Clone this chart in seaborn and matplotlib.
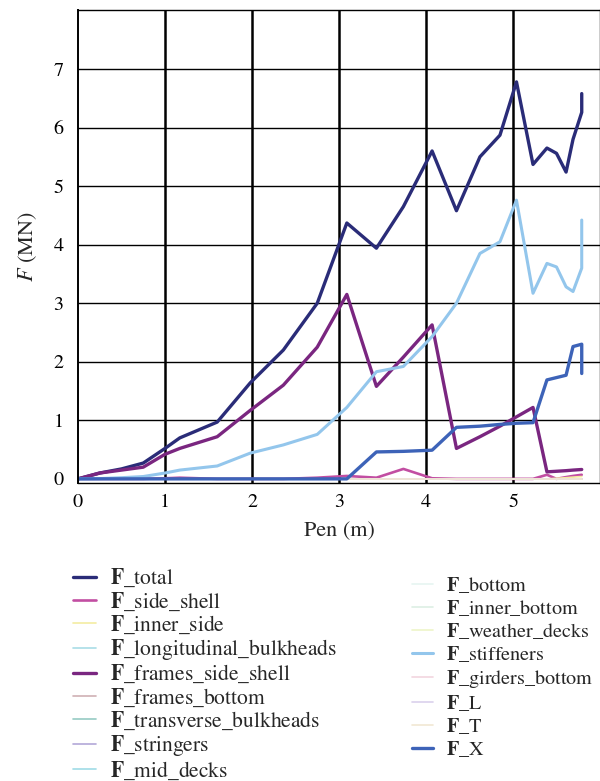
import pandas as pd
import seaborn as sns
import matplotlib.pyplot as plt
import numpy as np

# penetration (m) - shared x grid, last point repeated (vertical end segment)
pen = [0, 0.25, 0.5, 0.75, 1.0, 1.17, 1.6, 1.98, 2.36, 2.75, 3.09, 3.43, 3.74,
       4.07, 4.35, 4.62, 4.85, 5.04, 5.23, 5.39, 5.5, 5.61, 5.69, 5.79, 5.79]

f_total = [0, 0.1, 0.17, 0.27, 0.52, 0.7, 0.97, 1.64, 2.2, 3.0, 4.37, 3.94, 4.65,
           5.6, 4.58, 5.5, 5.87, 6.78, 5.37, 5.65, 5.56, 5.24, 5.8, 6.26, 6.58]
f_side_shell = [0, 0, 0, 0, 0.01, 0.02, 0, 0, 0, 0.02, 0.05, 0.02, 0.17,
                0.01, 0, 0, 0, 0, 0, 0.07, 0.0, 0.03, 0.05, 0.07, 0.07]
f_inner_side = [0, 0, 0, 0, 0, 0, 0, 0, 0, 0, 0, 0, 0,
                0, 0, 0, 0, 0, 0, 0, 0.01, 0.02, 0.03, 0.04, 0.04]
f_frames_side_shell = [0, 0.1, 0.15, 0.2, 0.42, 0.52, 0.72, 1.17, 1.6, 2.25, 3.15, 1.58, 2.08,
                       2.63, 0.52, 0.72, 0.9, 1.06, 1.22, 0.12, 0.13, 0.14, 0.15, 0.16, 0.16]
f_stiffeners = [0, 0.005, 0.02, 0.04, 0.1, 0.15, 0.22, 0.44, 0.58, 0.76, 1.22, 1.83, 1.92,
                2.43, 3.0, 3.85, 4.05, 4.76, 3.17, 3.68, 3.62, 3.28, 3.2, 3.6, 4.42]
f_x = [0, 0, 0, 0, 0, 0, 0, 0, 0, 0, 0, 0.46, 0.47,
       0.49, 0.88, 0.9, 0.93, 0.95, 0.96, 1.69, 1.73, 1.77, 2.26, 2.3, 1.8]
zeros = [0] * len(pen)

# (name, values, colour, linewidth)
series = [
    ('total', f_total, '#2a2c78', 2.4),
    ('side_shell', f_side_shell, '#c24ea2', 1.9),
    ('inner_side', f_inner_side, '#f3eca2', 1.2),
    ('longitudinal_bulkheads', zeros, '#a9dde6', 1.2),
    ('frames_side_shell', f_frames_side_shell, '#7a2680', 2.4),
    ('frames_bottom', zeros, '#cfb0b4', 1.2),
    ('transverse_bulkheads', zeros, '#96cbc4', 1.2),
    ('stringers', zeros, '#b3a8d8', 1.2),
    ('mid_decks', zeros, '#9fdce6', 1.2),
    ('bottom', zeros, '#e6f5f1', 1.2),
    ('inner_bottom', zeros, '#ddefe4', 1.2),
    ('weather_decks', zeros, '#eef5c8', 1.2),
    ('stiffeners', f_stiffeners, '#93c6ec', 2.2),
    ('girders_bottom', zeros, '#f2d6df', 1.2),
    ('L', zeros, '#dad1ec', 1.2),
    ('T', zeros, '#f1e7d3', 1.2),
    ('X', f_x, '#3d63b8', 2.4),
]

sns.set_theme(style='white')
plt.rcParams['font.family'] = ['STIXGeneral', 'DejaVu Serif']
plt.rcParams['mathtext.fontset'] = 'stix'

fig = plt.figure(figsize=(6.0, 7.81), dpi=100)
ax = fig.add_axes([0.13, 0.3816, 0.87, 0.605])

handles = []
for name, vals, col, lw in series:
    sns.lineplot(x=pen, y=vals, ax=ax, color=col, linewidth=lw,
                 sort=False, estimator=None)
    handles.append(ax.lines[-1])

ax.set_xlim(0, 6)
ax.set_ylim(-0.07, 8)
ax.set_xticks(range(0, 6))
ax.set_yticks(range(0, 9))
ax.set_yticklabels([str(i) for i in range(8)] + [''])
ax.tick_params(axis='both', direction='out', colors='black', labelsize=14.5)
ax.tick_params(axis='y', length=7, width=1.2)
ax.tick_params(axis='x', length=4, width=1.2)
for x in range(1, 6):
    ax.axvline(x, color='black', linewidth=1.8, zorder=0)
for y in range(1, 8):
    ax.axhline(y, color='black', linewidth=1.0, zorder=0)
for s in ax.spines.values():
    s.set_color('black')
    s.set_linewidth(1.0)
ax.spines['left'].set_linewidth(1.4)

ax.set_xlabel('Pen (m)', fontsize=16, labelpad=8)
ax.set_ylabel('$F$ (MN)', fontsize=16, labelpad=10)

labels = [r'$\mathbf{F}$_' + name for name, _, _, _ in series]
leg_kw = dict(frameon=False, handlelength=1.05, handletextpad=0.65,
              borderpad=0, borderaxespad=0)
leg1 = fig.legend(handles[:9], labels[:9], loc='upper left', fontsize=15.5,
                  labelspacing=0.05, bbox_to_anchor=(0.1217, 0.274), **leg_kw)
leg2 = fig.legend(handles[9:], labels[9:], loc='upper left', fontsize=14.5,
                  labelspacing=0.16, bbox_to_anchor=(0.686, 0.264), **leg_kw)

plt.savefig('out.png', dpi=100)
